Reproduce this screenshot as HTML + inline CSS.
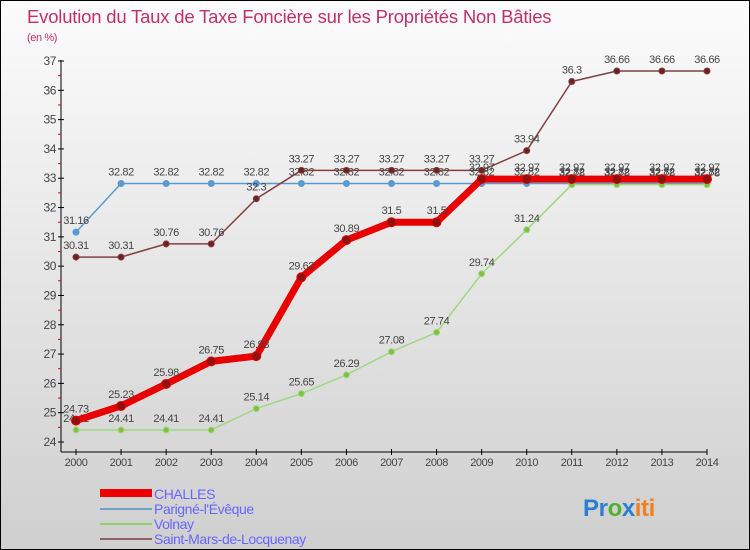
<!DOCTYPE html>
<html><head><meta charset="utf-8"><style>
body{margin:0}
#c{width:748px;height:548px;border:1px solid #000;background:linear-gradient(#fcfcfc,#cfcfcf);position:relative;font-family:"Liberation Sans",sans-serif;overflow:hidden}
text{letter-spacing:-0.4px}
</style></head><body>
<div id="c">
<svg id="s" width="748" height="548" style="position:absolute;left:0;top:0">
<text x="26" y="22" font-size="18.5" fill="#c0306a" style="letter-spacing:-0.2px">Evolution du Taux de Taxe Foncière sur les Propriétés Non Bâties</text>
<text x="26" y="40" font-size="11" fill="#c0306a">(en %)</text>
<g id="axes"></g><g id="series"></g>
<g>
<rect x="99" y="488" width="52" height="8" fill="#e00"/>
<text x="153" y="498" font-size="14" fill="#6666ff">CHALLES</text>
<rect x="99" y="507" width="52" height="2" fill="#70a0c8"/>
<text x="153" y="513" font-size="14" fill="#6666ff">Parigné-l'Évêque</text>
<rect x="99" y="522" width="52" height="2" fill="#90d070"/>
<text x="153" y="528" font-size="14" fill="#6666ff">Volnay</text>
<rect x="99" y="537" width="52" height="2" fill="#906060"/>
<text x="153" y="543" font-size="14" fill="#6666ff">Saint-Mars-de-Locquenay</text>
</g>
<text x="582" y="515" font-size="24" font-weight="bold"><tspan fill="#2a80d0">Pr</tspan><tspan fill="#50b030">o</tspan><tspan fill="#2a80d0">x</tspan><tspan fill="#f08020">iti</tspan></text>
</svg></div>
<script>
const years=[2000,2001,2002,2003,2004,2005,2006,2007,2008,2009,2010,2011,2012,2013,2014];
const yTicks=[24,25,26,27,28,29,30,31,32,33,34,35,36,37];
const challes=[24.73,25.23,25.98,26.75,26.93,29.62,30.89,31.5,31.5,32.97,32.97,32.97,32.97,32.97,32.97];
const parigne=[31.16,32.82,32.82,32.82,32.82,32.82,32.82,32.82,32.82,32.82,32.82,32.82,32.82,32.82,32.82];
const volnay=[24.41,24.41,24.41,24.41,25.14,25.65,26.29,27.08,27.74,29.74,31.24,32.78,32.78,32.78,32.78];
const saintMars=[30.31,30.31,30.76,30.76,32.3,33.27,33.27,33.27,33.27,33.27,33.94,36.3,36.66,36.66,36.66];
const NS="http://www.w3.org/2000/svg";
const xs=i=>75+i*(631/14);
const ys=v=>441-(v-24)*(381/13);
function mk(t,a,p){const e=document.createElementNS(NS,t);for(const k in a)e.setAttribute(k,a[k]);p.appendChild(e);return e;}
const ax=document.getElementById('axes');
let l=mk('line',{x1:60,y1:59,x2:60,y2:451,stroke:'#000'},ax);


l=mk('line',{x1:60,y1:451,x2:706,y2:451,stroke:'#000'},ax);


yTicks.forEach(v=>{
  const y=ys(v);
  mk('line',{x1:57,y1:y,x2:63,y2:y,stroke:'#000'},ax);
  if(v<37)mk('line',{x1:57,y1:ys(v+0.5),x2:60,y2:ys(v+0.5),stroke:'#e00'},ax);
  const t=mk('text',{x:55,y:y+4,'font-size':12,fill:'#444','text-anchor':'end'},ax);
  t.textContent=v;
  
  
});
years.forEach((yr,i)=>{
  mk('line',{x1:xs(i),y1:448,x2:xs(i),y2:454,stroke:'#000'},ax);
  const t=mk('text',{x:xs(i),y:465,'font-size':11,fill:'#444','text-anchor':'middle'},ax);
  t.textContent=yr;
  
  
});
const sg=document.getElementById('series');
function draw(vals,name,color,w,r,dot){
  const g=mk('g',{},sg);
  
  
  const p=mk('polyline',{points:vals.map((v,i)=>xs(i)+','+ys(v)).join(' '),fill:'none',stroke:color,'stroke-width':w,'stroke-linejoin':'round'},g);
  
  
  vals.forEach((v,i)=>{
    const c=mk('circle',{cx:xs(i),cy:ys(v),r:r,fill:dot,stroke:color,'stroke-width':1},g);
    
    
    const t=mk('text',{x:xs(i),y:ys(v)-8,'font-size':11,fill:'#444','text-anchor':'middle'},g);
    t.textContent=v;
    
    
  });
}
draw(parigne,'parigne','#5a9ad0',1.5,3,'#5a9ad0');
draw(volnay,'volnay','#a0d880',1.5,3,'#80c040');
draw(saintMars,'saint-mars','#804040',1.5,3,'#702020');
draw(challes,'challes','#e80000',7,4.5,'#901010');
</script></body></html>
